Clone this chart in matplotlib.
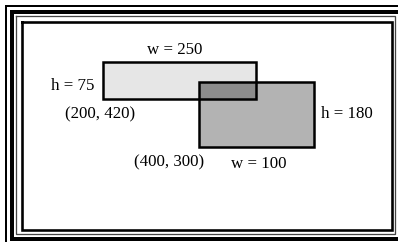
import matplotlib
matplotlib.use("Agg")
import matplotlib.pyplot as plt
from matplotlib.patches import Rectangle

# rectangles (pixel units of the drawing, y grows downwards)
rect_x = [103, 199]
rect_y = [62, 82]
rect_w = [153, 115]
rect_h = [37, 65]
rect_fill = ["#e6e6e6", "#b3b3b3"]
overlap_fill = "#8c8c8c"

# labels written next to the rectangles
width_labels = ["w = 250", "w = 100"]
height_labels = ["h = 75", "h = 180"]
corner_labels = ["(200, 420)", "(400, 300)"]

W, H = 398, 242
fig = plt.figure(figsize=(W / 100, H / 100), dpi=100)
ax = fig.add_axes([0, 0, 1, 1])
ax.set_xlim(0, W)
ax.set_ylim(H, 0)
ax.axis("off")

# frame: nested lines, the outer ones run off the right/bottom edge
frame = [
    # (left, top, right, bottom, width, colour)
    (6, 6, 405, 246, 2.0, "black"),
    (11.5, 11.5, 401, 238.5, 4.0, "black"),
    (16, 16, 394.5, 233.5, 1.3, "#444444"),
    (21.5, 21.5, 391.5, 230, 2.6, "black"),
]
for l, t, r, b, lw, c in frame:
    ax.plot([l, r, r, l, l], [t, t, b, b, t], color=c, lw=lw * 0.72,
            solid_joinstyle="miter", solid_capstyle="projecting")

for x, y, w, h, fc in zip(rect_x, rect_y, rect_w, rect_h, rect_fill):
    ax.add_patch(Rectangle((x, y), w, h, facecolor=fc, edgecolor="none"))

# overlap of the two rectangles
ox0 = max(rect_x[0], rect_x[1])
ox1 = min(rect_x[0] + rect_w[0], rect_x[1] + rect_w[1])
oy0 = max(rect_y[0], rect_y[1])
oy1 = min(rect_y[0] + rect_h[0], rect_y[1] + rect_h[1])
ax.add_patch(Rectangle((ox0, oy0), ox1 - ox0, oy1 - oy0, facecolor=overlap_fill, edgecolor="none"))

for x, y, w, h in zip(rect_x, rect_y, rect_w, rect_h):
    ax.add_patch(Rectangle((x, y), w, h, facecolor="none", edgecolor="black",
                           lw=1.8, joinstyle="miter"))

fs = 12.2
font = dict(family="Liberation Serif", fontsize=fs, color="black", va="baseline")
ax.text(175, 54, width_labels[0], ha="center", **font)
ax.text(259, 167.5, width_labels[1], ha="center", **font)
ax.text(94, 90, height_labels[0], ha="right", **font)
ax.text(321, 118, height_labels[1], ha="left", **font)
ax.text(100, 118, corner_labels[0], ha="center", **font)
ax.text(169, 166, corner_labels[1], ha="center", **font)

fig.savefig("out.png", dpi=100)
